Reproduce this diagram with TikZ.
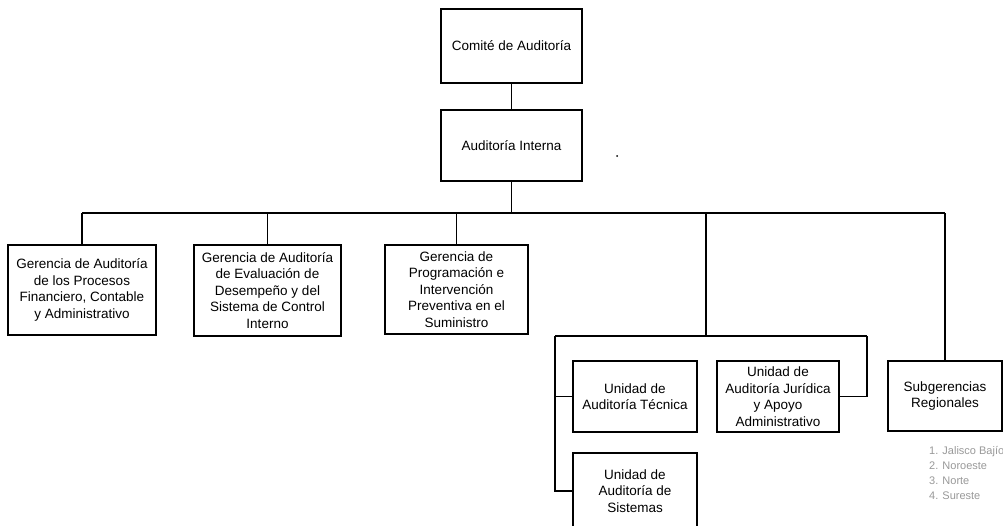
\documentclass[tikz,border=0pt]{standalone}
\usepackage{fontspec}
\setmainfont{Liberation Sans}
\tikzset{
  box/.style={draw, line width=1.5pt, align=center, inner sep=0pt,
    font=\fontsize{13.5}{16.5}\selectfont},
  conn/.style={line width=1.5pt},
  listtxt/.style={align=left, inner sep=0pt, text=black!40,
    font=\fontsize{11}{15}\selectfont}
}
\begin{document}
\begin{tikzpicture}[x=1pt,y=-1pt]
\useasboundingbox (0,0) rectangle (1003,525);
\clip (0,0) rectangle (1003,525);
\fill[white] (0,0) rectangle (1003,525);

\node[box, minimum width=141pt, minimum height=74pt] (comite) at (511.5,46) {Comité de Auditoría};
\node[box, minimum width=141pt, minimum height=71pt] (interna) at (511.5,145.5) {Auditoría Interna};

\node[box, minimum width=148pt, minimum height=90pt] (A) at (82,290) {Gerencia de Auditoría\\de los Procesos\\Financiero, Contable\\y Administrativo};
\node[box, minimum width=147pt, minimum height=91pt] (B) at (267.5,290.5) {Gerencia de Auditoría\\de Evaluación de\\Desempeño y del\\Sistema de Control\\Interno};
\node[box, minimum width=143pt, minimum height=89pt] (C) at (456.5,289.5) {Gerencia de\\Programación e\\Intervención\\Preventiva en el\\Suministro};

\node[box, minimum width=124pt, minimum height=71pt] (tec) at (635,396.5) {Unidad de\\Auditoría Técnica};
\node[box, minimum width=122pt, minimum height=71pt] (jur) at (778,396.5) {Unidad de\\Auditoría Jurídica\\y Apoyo\\Administrativo};
\node[box, minimum width=124pt, minimum height=76pt] (sist) at (635,491) {Unidad de\\Auditoría de\\Sistemas};
\node[box, minimum width=114pt, minimum height=70pt] (sub) at (945,396) {Subgerencias\\Regionales};

\node[listtxt, anchor=west] (lista) at (929,473) {1. Jalisco Bajío\\2. Noroeste\\3. Norte\\4. Sureste};

\fill (617,156) circle (1pt);

\coordinate (busL) at (82,213);
\coordinate (busR) at (945,213);
\coordinate (j1) at (706,213);
\coordinate (j2) at (706,336);
\coordinate (u1) at (555,336);
\coordinate (u2) at (867,336);

\draw[conn] (comite) -- (interna);
\draw[conn] (interna.south) -- (interna.south |- busL);
\draw[conn] (busL) -- (busR);
\draw[conn] (A.north) -- (A.north |- busL);
\draw[conn] (B.north) -- (B.north |- busL);
\draw[conn] (C.north) -- (C.north |- busL);
\draw[conn] (sub.north) -- (sub.north |- busR);
\draw[conn] (j1) -- (j2);
\draw[conn] (u1) -- (u2);
\draw[conn] (u1) |- (tec.west);
\draw[conn] (u1) |- (sist.west);
\draw[conn] (u2) |- (jur.east);
\end{tikzpicture}
\end{document}
